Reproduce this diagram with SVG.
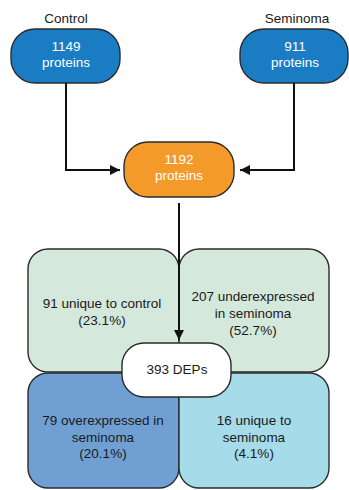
<svg xmlns="http://www.w3.org/2000/svg" width="349" height="490" viewBox="0 0 349 490">
<style>
text{font-family:"Liberation Sans",Arial,sans-serif;font-size:13.5px;text-anchor:middle;fill:#1a1a1a}
.w{fill:#ffffff}
.box{stroke:#2b2b2b;stroke-width:1.4}
.ln{stroke:#111;stroke-width:2;fill:none}
</style>
<defs>
<marker id="ah" viewBox="0 0 10 10" refX="10" refY="5" markerWidth="5.5" markerHeight="5" orient="auto" markerUnits="strokeWidth">
<path d="M0,0L10,5L0,10z" fill="#111"/>
</marker>
</defs>
<rect width="349" height="490" fill="#fff"/>
<g id="control">
<text x="66" y="23">Control</text>
<rect class="box" x="11" y="29" width="109" height="54" rx="24" fill="#1a7dc3"/>
<text class="w" x="66" y="51">1149</text>
<text class="w" x="66" y="67">proteins</text>
</g>
<g id="seminoma">
<text x="297" y="23">Seminoma</text>
<rect class="box" x="240" y="29" width="108" height="54" rx="24" fill="#1a7dc3"/>
<text class="w" x="295" y="51">911</text>
<text class="w" x="295" y="67">proteins</text>
</g>
<g id="merged">
<rect class="box" x="124" y="142" width="110" height="55" rx="24" fill="#f39a2b"/>
<text class="w" x="179" y="164">1192</text>
<text class="w" x="179" y="180">proteins</text>
</g>
<g id="unique-control">
<rect class="box" x="28" y="249" width="151" height="123" rx="20" fill="#d4e8dc"/>
<text x="102" y="308">91 unique to control</text>
<text x="102" y="325">(23.1%)</text>
</g>
<g id="underexpressed">
<rect class="box" x="179" y="249" width="150" height="123" rx="20" fill="#d4e8dc"/>
<text x="253" y="301">207 underexpressed</text>
<text x="253" y="318">in seminoma</text>
<text x="253" y="335">(52.7%)</text>
</g>
<g id="overexpressed">
<rect class="box" x="28" y="373" width="151" height="115" rx="20" fill="#70a0d3"/>
<text x="103" y="425">79 overexpressed in</text>
<text x="103" y="442">seminoma</text>
<text x="103" y="458">(20.1%)</text>
</g>
<g id="unique-seminoma">
<rect class="box" x="179" y="373" width="150" height="115" rx="20" fill="#a6dbea"/>
<text x="254" y="425">16 unique to</text>
<text x="254" y="442">seminoma</text>
<text x="254" y="458">(4.1%)</text>
</g>
<g id="deps">
<rect class="box" x="122" y="343" width="109" height="54" rx="22" fill="#ffffff"/>
<text x="177" y="374">393 DEPs</text>
</g>
<g id="connectors">
<path class="ln" d="M66,83V170H120" marker-end="url(#ah)"/>
<path class="ln" d="M294,83V170H240" marker-end="url(#ah)"/>
<path class="ln" d="M179,203V340" marker-end="url(#ah)"/>
</g>
</svg>
